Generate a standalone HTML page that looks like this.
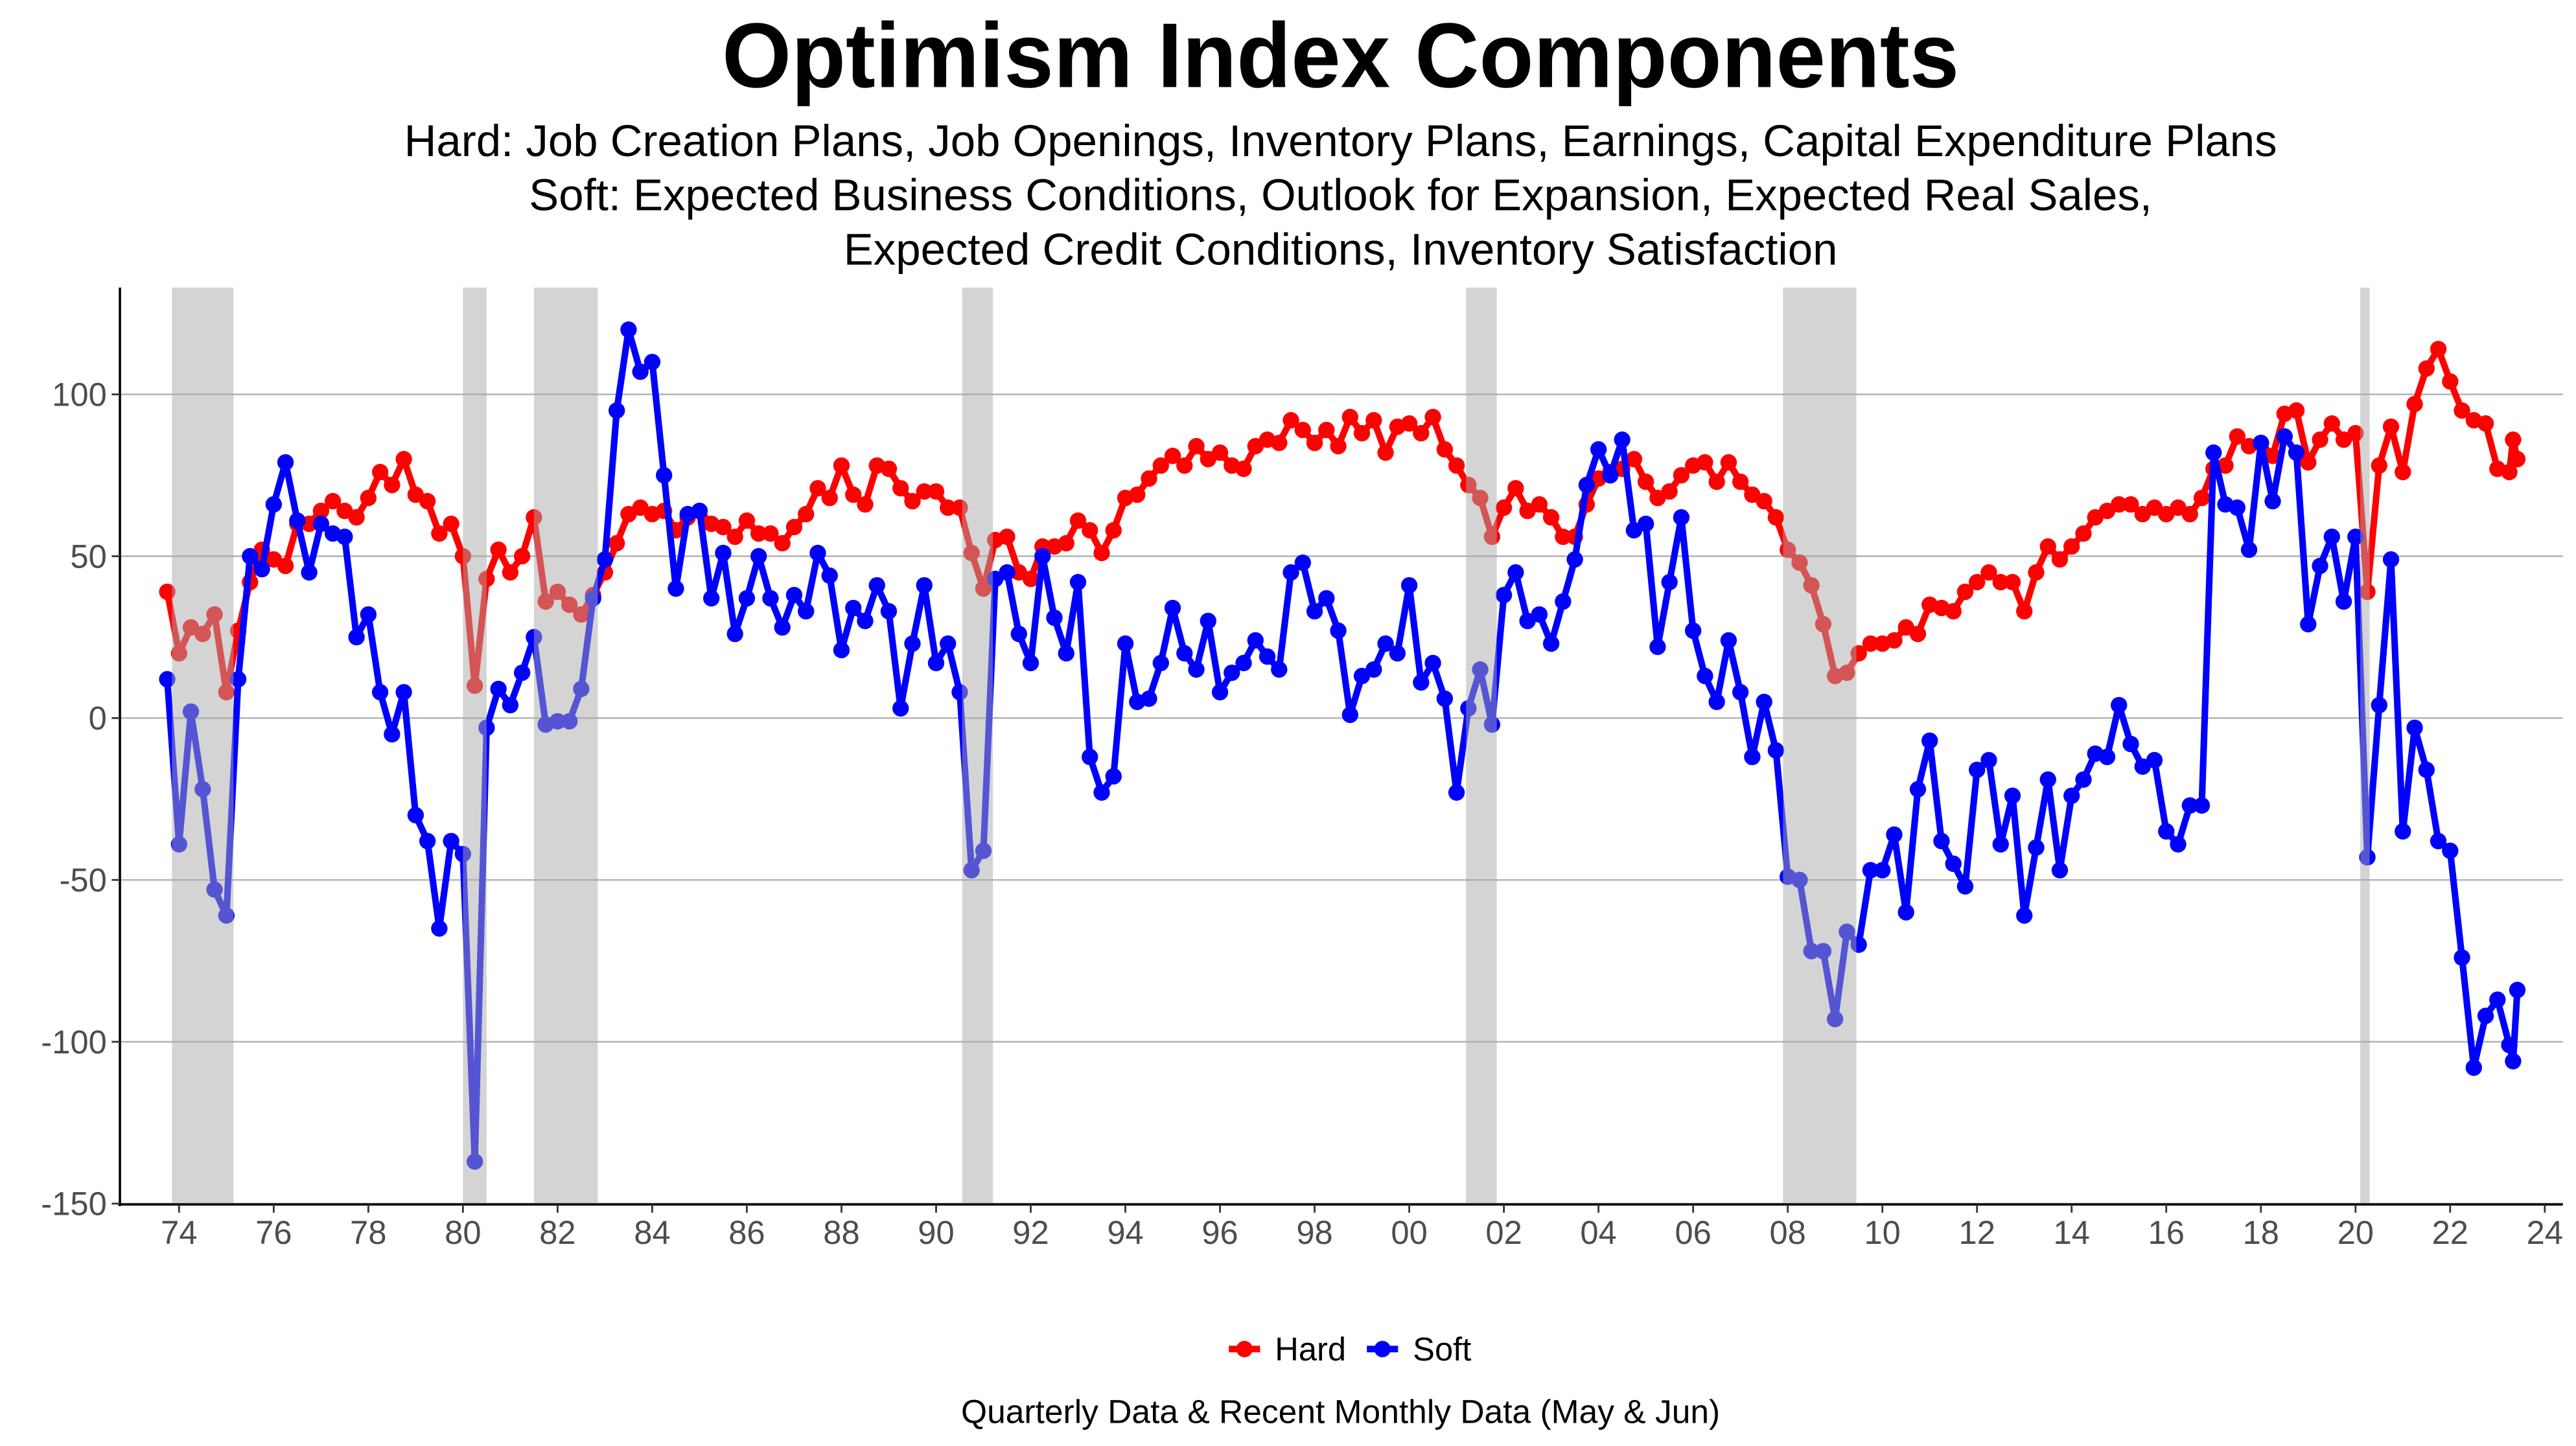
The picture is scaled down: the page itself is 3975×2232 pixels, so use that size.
<!DOCTYPE html>
<html><head><meta charset="utf-8"><title>Optimism Index Components</title>
<style>html,body{margin:0;padding:0;background:#fff}svg{display:block}</style></head>
<body>
<svg id="chart" xmlns="http://www.w3.org/2000/svg" width="3975" height="2232" viewBox="0 0 1568 880" preserveAspectRatio="none" font-family="'Liberation Sans', sans-serif">
<rect x="0" y="0" width="1568" height="880" fill="#fff"/>
<text x="816" y="53" text-anchor="middle" font-size="56" font-weight="bold" textLength="753" lengthAdjust="spacingAndGlyphs">Optimism Index Components</text>
<text x="816" y="95" text-anchor="middle" font-size="27" textLength="1140" lengthAdjust="spacingAndGlyphs">Hard: Job Creation Plans, Job Openings, Inventory Plans, Earnings, Capital Expenditure Plans</text>
<text x="816" y="128" text-anchor="middle" font-size="27" textLength="988" lengthAdjust="spacingAndGlyphs">Soft: Expected Business Conditions, Outlook for Expansion, Expected Real Sales,</text>
<text x="816" y="161" text-anchor="middle" font-size="27" textLength="605" lengthAdjust="spacingAndGlyphs">Expected Credit Conditions, Inventory Satisfaction</text>
<g id="grid"></g>
<g id="series"></g>
<g id="bands"></g>
<g id="axes"></g>
<g>
  <line x1="748" y1="821" x2="767" y2="821" stroke="#ff0000" stroke-width="4"/>
  <circle cx="757.5" cy="821" r="5" fill="#ff0000"/>
  <text x="776" y="828" font-size="20" fill="#000">Hard</text>
  <line x1="832" y1="821" x2="851" y2="821" stroke="#0000ff" stroke-width="4"/>
  <circle cx="841.5" cy="821" r="5" fill="#0000ff"/>
  <text x="860" y="828" font-size="20" fill="#000">Soft</text>
</g>
<text x="816" y="866" text-anchor="middle" font-size="20" textLength="462" lengthAdjust="spacingAndGlyphs">Quarterly Data &amp; Recent Monthly Data (May &amp; Jun)</text>
</svg>
<script>
const startYear = 1973.75;
const monthlyDates = [2023.33, 2023.42];
const hardValues = [
39,20,28,26,32,8,27,42,52,49,47,60,60,64,67,64,62,68,76,72,80,69,67,57,60,50,10,43,52,45,50,62,36,39,35,32,38,
45,54,63,65,63,64,58,62,64,60,59,56,61,57,57,54,59,63,71,68,78,69,66,78,77,71,67,70,70,65,65,51,40,55,56,45,
43,53,53,54,61,58,51,58,68,69,74,78,81,78,84,80,82,78,77,84,86,85,92,89,85,89,84,93,88,92,82,90,91,88,93,83,
78,72,68,56,65,71,64,66,62,56,56,66,74,76,77,80,73,68,70,75,78,79,73,79,73,69,67,62,52,48,41,29,13,14,20,23,
23,24,28,26,35,34,33,39,42,45,42,42,33,45,53,49,53,57,62,64,66,66,63,65,63,65,63,68,77,78,87,84,85,81,94,95,79,
86,91,86,88,39,78,90,76,97,108,114,104,95,92,91,77,76,
86,80];
const softValues = [
12,-39,2,-22,-53,-61,12,50,46,66,79,61,45,60,57,56,25,32,8,-5,8,-30,-38,-65,-38,-42,-137,-3,9,4,14,25,-2,-1,-1,9,37,
49,95,120,107,110,75,40,63,64,37,51,26,37,50,37,28,38,33,51,44,21,34,30,41,33,3,23,41,17,23,8,-47,-41,43,45,26,
17,50,31,20,42,-12,-23,-18,23,5,6,17,34,20,15,30,8,14,17,24,19,15,45,48,33,37,27,1,13,15,23,20,41,11,17,6,
-23,3,15,-2,38,45,30,32,23,36,49,72,83,75,86,58,60,22,42,62,27,13,5,24,8,-12,5,-10,-49,-50,-72,-72,-93,-66,-70,-47,
-47,-36,-60,-22,-7,-38,-45,-52,-16,-13,-39,-24,-61,-40,-19,-47,-24,-19,-11,-12,4,-8,-15,-13,-35,-39,-27,-27,82,66,65,52,85,67,87,82,29,
47,56,36,56,-43,4,49,-35,-3,-16,-38,-41,-74,-108,-92,-87,-101,
-106,-84];
const yTicks = [100,50,0,-50,-100,-150];
const xTickYears = [1974,1976,1978,1980,1982,1984,1986,1988,1990,1992,1994,1996,1998,2000,2002,2004,2006,2008,2010,2012,2014,2016,2018,2020,2022,2024];
const xTickLabels = ["74","76","78","80","82","84","86","88","90","92","94","96","98","00","02","04","06","08","10","12","14","16","18","20","22","24"];
const recessionStarts = [1973.85,1980.0,1981.5,1990.55,2001.2,2007.9,2020.1];
const recessionEnds = [1975.15,1980.5,1982.85,1991.2,2001.85,2009.45,2020.3];

const NS = "http://www.w3.org/2000/svg";
const PL = 73, PR = 1560, PT = 175, PB = 733;
function xScale(yr){ return 109 + (yr - 1974) * 28.8; }
function yScale(v){ return 437 - v * 1.97; }
function mk(tag, attrs, parent){ const e = document.createElementNS(NS, tag); for (const k in attrs) e.setAttribute(k, attrs[k]); parent.appendChild(e); return e; }

const nQ = hardValues.length - monthlyDates.length;
const dates = [];
for (let i = 0; i < nQ; i++) dates.push(startYear + i * 0.25);
for (const d of monthlyDates) dates.push(d);

const grid = document.getElementById('grid');
yTicks.forEach(t => {
  const l = mk('line', {x1:PL, x2:PR, y1:yScale(t), y2:yScale(t), stroke:'#b5b5b5', 'stroke-width':1}, grid);
  
  
});

const series = document.getElementById('series');
function drawSeries(vals, color, name){
  const g = mk('g', {}, series);
  
  
  const pts = vals.map((v,i) => xScale(dates[i]).toFixed(2) + ',' + yScale(v).toFixed(2)).join(' ');
  const pl = mk('polyline', {points: pts, fill:'none', stroke: color, 'stroke-width': 4, 'stroke-linejoin':'round'}, g);
  
  
  vals.forEach((v,i) => {
    const c = mk('circle', {cx: xScale(dates[i]), cy: yScale(v), r: 5, fill: color}, g);
    
    
  });
}
drawSeries(hardValues, '#ff0000', 'hard');
drawSeries(softValues, '#0000ff', 'soft');

const bands = document.getElementById('bands');
recessionStarts.forEach((s, i) => {
  const r = mk('rect', {x: xScale(s), y: PT, width: xScale(recessionEnds[i]) - xScale(s), height: PB - PT, fill:'#aaaaaa', 'fill-opacity': 0.5}, bands);
  
  
});

const axes = document.getElementById('axes');
const ya = mk('line', {x1:PL, x2:PL, y1:PT, y2:PB+1, stroke:'#000', 'stroke-width':1.4}, axes);


const xa = mk('line', {x1:PL-1, x2:PR, y1:PB, y2:PB, stroke:'#000', 'stroke-width':1.4}, axes);


yTicks.forEach(t => {
  mk('line', {x1:PL-5, x2:PL, y1:yScale(t), y2:yScale(t), stroke:'#333', 'stroke-width':1.1}, axes);
  const tx = mk('text', {x: 65, y: yScale(t) + 7, 'text-anchor':'end', 'font-size':20, fill:'#4d4d4d'}, axes);
  tx.textContent = String(t);
  
  
});
xTickYears.forEach((yr, i) => {
  const x = xScale(yr);
  mk('line', {x1:x, x2:x, y1:PB, y2:PB+5, stroke:'#333', 'stroke-width':1.1}, axes);
  const tx = mk('text', {x: x, y: 757, 'text-anchor':'middle', 'font-size':20, fill:'#4d4d4d'}, axes);
  tx.textContent = xTickLabels[i];
  
  
});
</script>
</body></html>
